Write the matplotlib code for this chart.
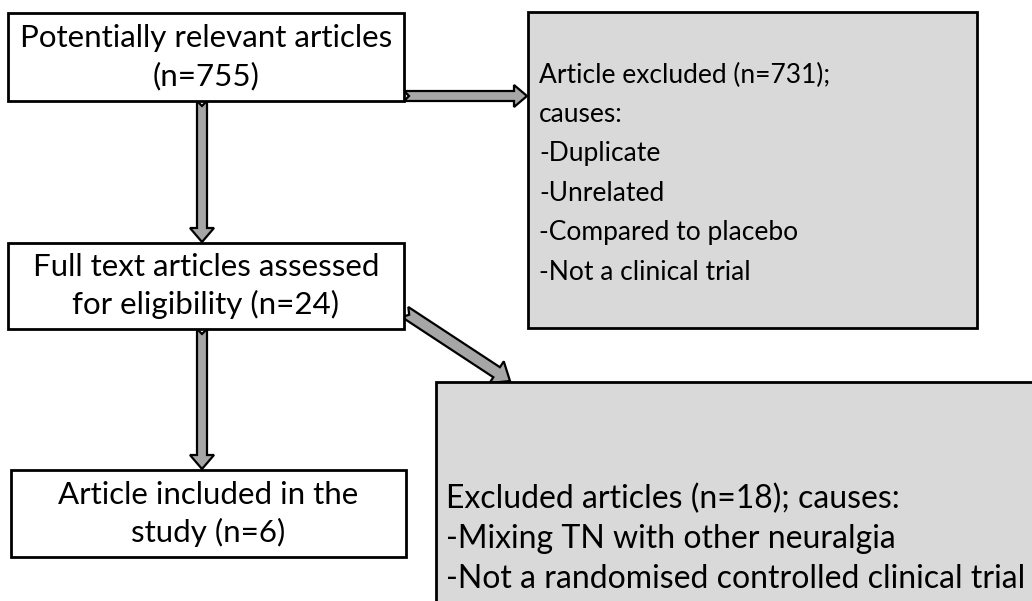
import matplotlib
matplotlib.use('Agg')
import matplotlib.pyplot as plt
from matplotlib.patches import Rectangle, Polygon
import numpy as np

plt.rcParams['font.family'] = ['Lato', 'DejaVu Sans']

# flow chart content
box_top = ["Potentially relevant articles", "(n=755)"]
box_full = ["Full text articles assessed", "for eligibility (n=24)"]
box_incl = ["Article included in the", "study (n=6)"]
excl_first = ["Article excluded (n=731);", "causes:", "-Duplicate", "-Unrelated",
              "-Compared to placebo", "-Not a clinical trial"]
excl_second = ["Excluded articles (n=18); causes:", "-Mixing TN with other neuralgia",
               "-Not a randomised controlled clinical trial"]

W, H = 1032, 601
fig = plt.figure(figsize=(W / 100, H / 100), dpi=100)
ax = fig.add_axes([0, 0, 1, 1])
ax.set_xlim(0, W)
ax.set_ylim(H, 0)
ax.axis('off')

LW = 2.0


def box(x0, y0, x1, y1, fc):
    ax.add_patch(Rectangle((x0, y0), x1 - x0, y1 - y0, facecolor=fc,
                           edgecolor='black', linewidth=LW, zorder=2))


def centered(lines, x0, y0, x1, y1, fs=22.5, step=37.5):
    cx, cy = (x0 + x1) / 2, (y0 + y1) / 2
    start = cy - step * (len(lines) - 1) / 2
    for i, s in enumerate(lines):
        ax.text(cx, start + i * step, s, ha='center', va='center', fontsize=fs, zorder=3)


def left(lines, x, y, fs, step):
    for i, s in enumerate(lines):
        ax.text(x, y + i * step, s, ha='left', va='center', fontsize=fs, zorder=3)


def block_arrow(x0, y0, x1, y1, w=10, hw=24, hl=14, notch=5):
    d = np.array([x1 - x0, y1 - y0], dtype=float)
    L = np.hypot(*d)
    u = d / L
    n = np.array([-u[1], u[0]])
    local = [(notch, 0), (0, w / 2), (L - hl, w / 2), (L - hl, hw / 2), (L, 0),
             (L - hl, -hw / 2), (L - hl, -w / 2), (0, -w / 2)]
    pts = [np.array([x0, y0]) + s * u + t * n for s, t in local]
    ax.add_patch(Polygon(pts, closed=True, facecolor='#a6a6a6', edgecolor='black',
                         linewidth=1.6, joinstyle='miter', zorder=1.5))


# boxes
box(8, 13, 404, 101, 'white')
box(8, 243, 404, 329, 'white')
box(11, 470, 406, 557, 'white')
box(528, 12, 977, 328, '#d9d9d9')
box(436, 382, 1040, 610, '#d9d9d9')

# arrows
block_arrow(202, 101, 202, 242)
block_arrow(202, 329, 202, 469)
block_arrow(404, 96, 527, 96, w=10, hw=22, hl=13)
block_arrow(405, 312, 510, 381, w=12, hw=26, hl=16)

# texts
centered(box_top, 8, 13, 404, 101)
centered(box_full, 8, 243, 404, 329)
centered(box_incl, 11, 470, 406, 557)
left(excl_first, 539, 75, 19, 39.4)
left(excl_second, 446, 499, 23, 40)

fig.savefig('out.png', dpi=100)
